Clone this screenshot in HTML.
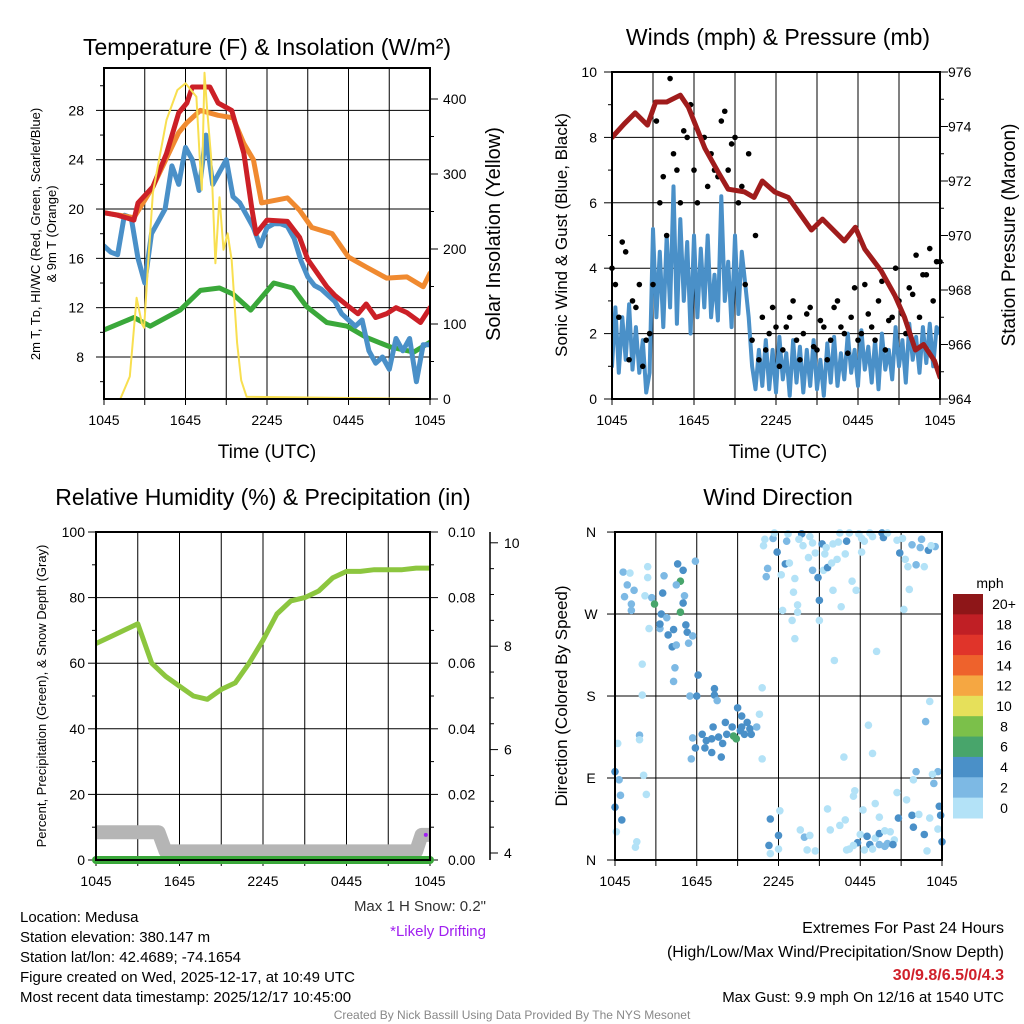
<!DOCTYPE html>
<html><head><meta charset="utf-8"><style>
html,body{margin:0;padding:0;background:#fff}
svg{display:block;font-family:"Liberation Sans",Arial,sans-serif}
</style></head><body>
<svg id="chart" width="1024" height="1024" viewBox="0 0 1024 1024">
<rect x="0" y="0" width="1024" height="1024" fill="#fff"/>
</svg>
<script>
// ---------- data ----------
const timeLabels=['1045','1645','2245','0445','1045'];
const temp2mHours=[0,1,2.2,2.5,3.6,4.6,5.5,6.1,6.5,7.8,8.4,9.4,10.3,10.9,11.2,12,13.5,14.4,15,16.4,17,18,18.7,19.3,20,20.8,21.5,22.3,23.3,24];
const temp2m=[19.7,19.5,19.1,20.5,21.8,24.5,27.8,28.6,29.9,29.9,28.6,28,24.5,19.9,18,19.1,19,17.7,15.9,13.7,13,12.1,11.5,12.3,11.2,11.5,12,11.6,10.8,12];
const temp9mHours=[0,2.2,3.6,5.5,6.1,7.1,8.4,9.5,10.3,11,11.6,13.5,14.4,15.3,16.8,18,19.3,20.8,22.3,23.5,24];
const temp9m=[19.7,19.3,21.8,26.2,27,28,27.6,27.4,25.3,24,20.5,20.9,19.9,18.5,18,16.1,15.3,14.4,14.5,13.7,14.8];
const dewHours=[0,2.2,3.4,5.6,7.1,8.5,9.5,10.8,12.5,13.9,14.9,16.4,17.9,19.3,21.1,22.8,24];
const dewpoint=[10.2,11.2,10.5,11.8,13.4,13.6,13.1,11.8,14,13.6,12.1,10.8,10.5,9.6,8.8,8.4,9.2];
const heatIndex=[17,16.5,16.3,19.5,19.3,16,14,18,19,20,23.5,22,25,24,21.5,26,22,23,24,21,20.5,19.5,18.5,17,18.5,18.8,18.8,18.6,17.6,15.8,14.5,13.8,13.5,13,12.5,11.5,11,10.5,11,8.5,7.5,8,7,9.5,8.5,9.5,6,9,9];
const solarHours=[0,1.2,1.9,2.4,2.8,2.95,3.25,3.6,4.6,5.4,6.0,6.8,7.1,7.2,7.4,7.6,7.9,8.2,8.5,8.8,9.1,9.4,9.8,10.1,10.5,24];
const solarValues=[0,0,30,135,100,95,180,275,372,412,421,403,305,279,435,385,319,181,269,199,221,185,75,25,3,0];
const windSpeed=[1,2.8,0.8,2.5,1.2,2.9,0.9,2.2,0.8,1.8,0.2,0.8,
5.2,2.5,4.5,2.2,5,2.8,6.5,2.3,5.5,3,4.8,2,5,2.5,4.6,2.8,5,2.5,3.8,2.4,6.2,3,4.2,2.2,5,2.6,4.5,3.5,
2.5,1,0.3,1.5,
0.4,1.8,0.3,1.5,0.2,1.9,0.6,1.4,0.1,1.8,0.5,1.6,0.2,1.5,0.4,1.8,0.3,1.2,0.1,1.7,0.5,1.9,0.4,1.4,0.6,2,0.8,1.5,0.4,2.1,0.9,1.6,0.5,1.8,0.3,2,0.9,1.5,0.6,2.2,1,1.8,0.5,2.3,1.2,1.9,0.8,2.2,1.1,2.3,1,2.2,2];
const gustA=[4,2.5,4.5,3,3.5,1.8,3.5,6,5,7.5,6,8,7,8,6.5,7,8.5,7,8,6.5,7.5,5,2.5,2,2.2,1.5,2.5,1.8,2,2.8,1.5,2.2,1.8,3,2,2.5,1.8,3.5,2.2,3,1.5,2.5,3,2,3.2,2.5,3.8,3,4.2];
const gustB=[3.5,4.8,1.2,2.8,1,2,8.5,6.8,9.8,7,8.2,9,6,8,7.5,6.8,8.8,7.8,6,3.5,1.8,1.2,1.5,2.8,1,2.2,3,1.2,2.6,1.6,2.4,1.2,2.8,2.2,1.4,3.4,2,2.6,1.8,3.6,2.4,4,2.6,3.4,4.4,3.8,4.6,4.2];
const pressureHours=[0,0.9,1.7,2.6,3.2,4,5,5.6,6.8,7.8,8.5,9.7,10.4,11,11.9,12.9,14.6,15.4,17,17.8,18.5,19.7,20.7,21.4,22.2,22.8,23.6,24];
const pressure=[973.6,974.1,974.5,974.05,974.9,974.9,975.15,974.7,973.2,972.3,971.7,971.6,971.4,972.0,971.6,971.4,970.2,970.6,969.8,970.3,969.5,968.7,967.8,967.0,965.8,966.0,965.4,964.8];
const rhHours=[0,1,2,3,4,5,6,7,8,9,10,11,12,13,14,15,16,17,18,19,20,21,22,23,24];
const rh=[66,68,70,72,60,56,53,50,49,52,54,60,67,75,79,80,82,86,88,88,88.5,88.5,88.5,89,89];
const precipHours=[0,24];
const precip=[0,0];
const snowHours=[0,4.5,5,23,23.4,24];
const snowDepth=[4.4,4.4,4.03,4.03,4.35,4.35];
const dirTimes=[0.6,1.1,0.9,1.4,0.7,1.2,1.2,2.4,2.4,2.2,2.7,2.9,2.5,2.0,2.0,3.3,3.4,3.5,3.6,4.6,5.0,4.8,4.5,5.1,5.0,4.8,3.8,3.3,3.9,4.3,5.2,5.3,4.2,4.5,5.4,5.7,5.9,4.4,4.3,6.1,
5.5,6.0,7.3,7.3,7.5,9.0,9.3,9.7,9.9,10.4,10.6,10.8,10.8,7.2,8.1,8.7,8.9,9.2,9.5,10.0,6.4,6.7,7.1,7.6,7.9,8.2,6.6,5.9,7.1,7.8,5.6,5.7,9.3,8.6,
0,0.2,1.8,1.8,2.1,0.3,0.4,0,0.5,0.1,2.3,1.6,1.5,
11.0,11.6,10.9,11.9,11.2,11.1,11.7,12.7,12.6,13.7,13.5,14.3,13.8,14.5,15.2,15.5,15.4,14.7,14.2,12.5,12.8,12.2,13.2,14.5,14.9,15.3,15.6,15.9,16.3,16.9,17.0,16.5,17.2,16.4,16.0,17.4,17.7,17.9,18.1,18.3,18.1,18.7,18.9,19.6,19.7,20.0,20.7,21.1,21.8,22.5,22.4,23.0,23.5,23.2,20.9,21.3,21.5,22.1,22.7,21.6,21.2,19.2,16.1,15.0,16.6,16.0,13.1,13.4,12.3,13.0,13.4,13.2,15.0,23.1,22.8,18.6,16.8,18.9,
12.1,11.4,12.0,11.3,12.0,11.4,13.6,13.9,14.3,14.1,14.7,15.6,15.8,16.5,16.9,17.6,17.5,18.2,19.1,19.4,18.0,17.8,18.5,18.7,19.1,19.4,19.8,20.2,20.5,19.4,19.8,20.0,20.4,17.2,17.0,17.5,18.3,18.9,20.7,21.4,21.9,22.1,21.8,22.3,23.1,20.8,21.9,22.7,23.7,23.7,23.4,23.3,23.8,23.9,24.0,22.9];
const dirDegs=[316,315,302,296,289,281,274,322,310,290,288,281,254,215,181,254,270,293,312,325,318,306,302,290,282,272,266,259,247,253,258,250,234,236,238,246,328,211,196,203,
180,180,188,181,175,167,158,151,144,146,160,189,111,146,151,136,133,142,138,138,138,131,133,135,128,138,123,123,118,113,111,134,146,146,
97,128,137,132,93,88,71,58,44,31,72,20,14,
352,353,345,338,320,311,359,358,350,358,352,355,345,348,347,343,336,337,332,325,326,313,309,318,310,318,321,326,330,336,350,359,359,349,347,306,296,358,353,350,338,359,355,359,354,359,351,353,346,352,343,340,344,345,337,330,322,324,322,297,275,229,219,285,278,296,294,280,274,263,272,243,263,174,152,148,113,117,
54,45,27,16,12,7,33,25,27,11,10,56,33,38,44,76,70,55,62,47,28,19,26,17,24,29,32,31,22,17,15,18,17,12,11,16,11,12,74,66,88,97,49,50,46,46,36,28,34,97,84,94,59,49,20,10];
const dirSpeeds=[3,1,3,3,3,3,3,1,1,1,3,7,1,1,1,3,5,5,3,5,5,7,3,3,5,7,3,5,5,5,5,5,5,3,3,3,3,3,3,5,
3,5,5,5,3,5,5,5,5,3,1,1,1,5,5,7,7,5,5,5,5,5,5,5,5,5,5,5,5,5,3,3,5,5,
5,1,3,1,1,3,3,5,5,1,1,1,1,
1,3,1,5,3,3,1,1,3,5,1,1,1,1,5,1,1,1,1,5,1,1,1,3,5,1,5,1,1,1,5,1,1,1,1,1,1,1,1,1,1,1,1,5,5,1,1,1,3,3,3,5,3,1,5,1,1,3,1,1,1,1,1,5,1,1,1,1,1,1,1,1,1,1,3,1,1,1,
1,5,5,5,1,1,1,3,1,1,1,1,1,1,1,1,1,1,1,1,1,5,5,5,1,5,1,1,1,3,3,3,5,1,1,1,1,1,1,1,1,3,5,1,1,5,5,5,1,3,3,1,5,5,5,1];
const speedBins=['0','2','4','6','8','10','12','14','16','18','20+'];
const speedColors=['#b3e2f7','#7db9e4','#4a90c8','#48a56b','#7bc04a','#e6e05a','#f5a742','#ee622c','#e0342a','#c01f25','#8e1618'];

// ---------- helpers ----------
const NS='http://www.w3.org/2000/svg';
const svg=document.getElementById('chart');
function el(tag,a,p){const e=document.createElementNS(NS,tag);for(const k in a)e.setAttribute(k,a[k]);(p||svg).appendChild(e);return e;}
function txt(s,a,p){const e=el('text',a,p);e.textContent=s;return e;}
function pathD(xs,ys){return xs.map((x,i)=>(i?'L':'M')+x.toFixed(1)+','+ys[i].toFixed(1)).join('');}

const P1={L:104,R:430,T:68,B:399},P2={L:612,R:940,T:72,B:399},P3={L:96,R:430,T:532,B:860},P4={L:615,R:942,T:532,B:860};
function xT(P,t){return P.L+t*(P.R-P.L)/24;}
const yT=v=>357-(v-8)*12.33, yS=v=>399-v*0.75;
const yW=v=>399-v*32.7, yP=p=>399-(p-964)*27.25;
const yR=v=>860-v*3.28, yPr=v=>860-v*3280, ySn=v=>853-(v-4)*51.7;
const yD=d=>860-d*0.911;

function frame(P,name){
  const g=el('g',{});
  
  
  for(let i=1;i<8;i++){const x=xT(P,i*3);
    const l=el('line',{x1:x,x2:x,y1:P.T,y2:P.B,stroke:'#000','stroke-width':1},g);
    
    }
  for(let i=0;i<=8;i++){const x=xT(P,i*3);
    el('line',{x1:x,x2:x,y1:P.B,y2:P.B+6,stroke:'#000','stroke-width':1},g);}
  timeLabels.forEach((s,i)=>{const t=txt(s,{x:xT(P,i*6),y:P.B+26,'font-size':14,'text-anchor':'middle'});
    
    });
  return g;
}
function border(P,name){
  const r=el('rect',{x:P.L,y:P.T,width:P.R-P.L,height:P.B-P.T,fill:'none',stroke:'#000','stroke-width':2});
  
  
}
function hgrid(P,ys){ys.forEach(y=>{const l=el('line',{x1:P.L,x2:P.R,y1:y,y2:y,stroke:'#000','stroke-width':1});
  
  });}
function ticksLeft(P,vals,yf,labels,minor,name,lx){
  minor.forEach(v=>el('line',{x1:P.L-4,x2:P.L,y1:yf(v),y2:yf(v),stroke:'#000'}));
  vals.forEach((v,i)=>{el('line',{x1:P.L-8,x2:P.L,y1:yf(v),y2:yf(v),stroke:'#000'});
    const t=txt(labels[i],{x:lx,y:yf(v)+5,'font-size':14,'text-anchor':'end'});
    
    });
}
function ticksRight(x,vals,yf,labels,minor,name,lx){
  minor.forEach(v=>el('line',{x1:x,x2:x+4,y1:yf(v),y2:yf(v),stroke:'#000'}));
  vals.forEach((v,i)=>{el('line',{x1:x,x2:x+8,y1:yf(v),y2:yf(v),stroke:'#000'});
    const t=txt(labels[i],{x:lx,y:yf(v)+5,'font-size':14,'text-anchor':'start'});
    
    });
}
function title(s,x,y,name,sz){const t=txt(s,{x:x,y:y,'font-size':sz||23,'text-anchor':'middle'});
  
  return t;}
function vtitle(s,x,y,name,sz){const t=txt(s,{x:0,y:0,'font-size':sz,'text-anchor':'middle',transform:`translate(${x},${y}) rotate(-90)`});
  
  return t;}
function series(xs,ys,color,w,name,clip){const p=el('path',{d:pathD(xs,ys),fill:'none',stroke:color,'stroke-width':w,'stroke-linejoin':'round','stroke-linecap':'round','clip-path':clip||''});
  
  return p;}
const defs=el('defs',{});
[['c1',P1],['c2',P2],['c3',P3],['c4',P4]].forEach(([id,P])=>{const c=el('clipPath',{id:id},defs);el('rect',{x:P.L,y:P.T-2,width:P.R-P.L,height:P.B-P.T+4},c);});

// ---------- Panel 1: temperature ----------
title('Temperature (F) & Insolation (W/m²)',267,55,'temperature-title');
frame(P1,'temperature');
hgrid(P1,[8,12,16,20,24,28].map(yT));
ticksLeft(P1,[8,12,16,20,24,28],yT,['8','12','16','20','24','28'],[6,10,14,18,22,26,30],'temp-y-tick-label',84);
ticksRight(P1.R,[0,100,200,300,400],yS,['0','100','200','300','400'],[50,150,250,350],'solar-y-tick-label',443);
vtitle('2m T, T\u1d05, HI/WC (Red, Green, Scarlet/Blue)',40,234,'temp-y-title',13);
vtitle('& 9m T (Orange)',56,234,'temp-y-title-line2',13);
vtitle('Solar Insolation (Yellow)',500,234,'solar-y-title',20);
title('Time (UTC)',267,458,'temp-x-title',19);
const h2=i=>i*0.5;
series(dewHours.map(t=>xT(P1,t)),dewpoint.map(yT),'#3aa83a',5,'dewpoint-line','url(#c1)');
series(heatIndex.map((v,i)=>xT(P1,h2(i))),heatIndex.map(yT),'#4a90c8',5,'heat-index-line','url(#c1)');
series(temp9mHours.map(t=>xT(P1,t)),temp9m.map(yT),'#f08a30',5,'temp-9m-line','url(#c1)');
series(temp2mHours.map(t=>xT(P1,t)),temp2m.map(yT),'#cc2027',5,'temp-2m-line','url(#c1)');
series(solarHours.map(t=>xT(P1,t)),solarValues.map(yS),'#f8df50',2,'solar-line','url(#c1)');
border(P1,'temperature');

// ---------- Panel 2: winds ----------
title('Winds (mph) & Pressure (mb)',778,45,'winds-title');
frame(P2,'winds');
hgrid(P2,[2,4,6,8].map(yW));
ticksLeft(P2,[0,2,4,6,8,10],yW,['0','2','4','6','8','10'],[1,3,5,7,9],'wind-y-tick-label',597);
ticksRight(P2.R,[964,966,968,970,972,974,976],yP,['964','966','968','970','972','974','976'],[965,967,969,971,973,975],'pressure-y-tick-label',948);
vtitle('Sonic Wind & Gust (Blue, Black)',567,235,'wind-y-title',17);
vtitle('Station Pressure (Maroon)',1015,235,'pressure-y-title',19);
title('Time (UTC)',778,458,'winds-x-title',19);
series(windSpeed.map((v,i)=>xT(P2,i*0.25)),windSpeed.map(yW),'#4a90c8',4,'wind-speed-line','url(#c2)');
gustA.forEach((v,i)=>{const c=el('circle',{cx:xT(P2,h2(i)),cy:yW(v),r:2.8,fill:'#000'});
  
  });
gustB.forEach((v,i)=>{const c=el('circle',{cx:xT(P2,0.25+h2(i)),cy:yW(v),r:2.8,fill:'#000'});
  
  });
series(pressureHours.map(t=>xT(P2,t)),pressure.map(yP),'#a01c1c',5,'pressure-line','url(#c2)');
border(P2,'winds');

// ---------- Panel 3: RH ----------
title('Relative Humidity (%) & Precipitation (in)',263,505,'humidity-title');
frame(P3,'humidity');
hgrid(P3,[20,40,60,80].map(yR));
ticksLeft(P3,[0,20,40,60,80,100],yR,['0','20','40','60','80','100'],[10,30,50,70,90],'rh-y-tick-label',85);
ticksRight(P3.R,[0,0.02,0.04,0.06,0.08,0.10],yPr,['0.00','0.02','0.04','0.06','0.08','0.10'],[0.01,0.03,0.05,0.07,0.09],'precip-y-tick-label',448);
const sa=el('line',{x1:490,x2:490,y1:532,y2:860,stroke:'#000','stroke-width':1.5});


ticksRight(490,[4,6,8,10],ySn,['4','6','8','10'],[4.5,5,5.5,6.5,7,7.5,8.5,9,9.5],'snow-y-tick-label',504);
vtitle('Percent, Precipitation (Green), & Snow Depth (Gray)',46,696,'rh-y-title',13);
series(snowHours.map(t=>xT(P3,t)),snowDepth.map(ySn),'#b5b5b5',14,'snow-depth-line','url(#c3)');
series(precipHours.map(t=>xT(P3,t)),precip.map(yPr),'#3aa83a',8,'precip-line');
series(rhHours.map(t=>xT(P3,t)),rh.map(yR),'#8cc63f',5,'rh-line','url(#c3)');
const dr=el('circle',{cx:xT(P3,23.7),cy:ySn(4.35),r:2,fill:'#a020f0'});


border(P3,'humidity');

// ---------- Panel 4: wind direction ----------
title('Wind Direction',778,505,'wind-direction-title');
frame(P4,'direction');
hgrid(P4,[90,180,270].map(yD));
[[360,'N'],[270,'W'],[180,'S'],[90,'E'],[0,'N']].forEach(([d,s])=>{
  el('line',{x1:P4.L-8,x2:P4.L,y1:yD(d),y2:yD(d),stroke:'#000'});
  const t=txt(s,{x:591,y:yD(d)+5,'font-size':14,'text-anchor':'middle'});
  
  });
vtitle('Direction (Colored By Speed)',567,696,'direction-y-title',17);
dirTimes.forEach((t,i)=>{const b=Math.min(10,Math.floor(dirSpeeds[i]/2));
  const c=el('circle',{cx:xT(P4,t),cy:yD(dirDegs[i]),r:3.8,fill:speedColors[b]});
  
  });
border(P4,'direction');
const cbT=594,cbH=224/11;
const mph=txt('mph',{x:990,y:588,'font-size':14,'text-anchor':'middle'});


speedBins.forEach((s,i)=>{const k=10-i;const y=cbT+i*cbH;
  const r=el('rect',{x:953,y:y,width:30,height:cbH+0.5,fill:speedColors[k]});
  
  
  const t=txt(speedBins[k],{x:1004,y:y+cbH/2+5,'font-size':14,'text-anchor':'middle'});
  
  });

// ---------- footer text ----------
const leftLines=['Location: Medusa','Station elevation: 380.147 m','Station lat/lon: 42.4689; -74.1654','Figure created on Wed, 2025-12-17, at 10:49 UTC','Most recent data timestamp: 2025/12/17 10:45:00'];
leftLines.forEach((s,i)=>{const t=txt(s,{x:20,y:922+i*20,'font-size':15});
  
  });
const ms=txt('Max 1 H Snow: 0.2"',{x:486,y:911,'font-size':15,'text-anchor':'end',fill:'#333'});


const ld=txt('*Likely Drifting',{x:486,y:936,'font-size':15,'text-anchor':'end',fill:'#a020f0'});


const e1=txt('Extremes For Past 24 Hours',{x:1004,y:933,'font-size':16,'text-anchor':'end'});


const e2=txt('(High/Low/Max Wind/Precipitation/Snow Depth)',{x:1004,y:957,'font-size':16,'text-anchor':'end'});


const e3=txt('30/9.8/6.5/0/4.3',{x:1004,y:980,'font-size':16,'text-anchor':'end',fill:'#d0202a','font-weight':'bold'});


const e4=txt('Max Gust: 9.9 mph On 12/16 at 1540 UTC',{x:1004,y:1002,'font-size':15,'text-anchor':'end'});


const cr=txt('Created By Nick Bassill Using Data Provided By The NYS Mesonet',{x:512,y:1019,'font-size':12,'text-anchor':'middle',fill:'#888'});


</script>
</body></html>
